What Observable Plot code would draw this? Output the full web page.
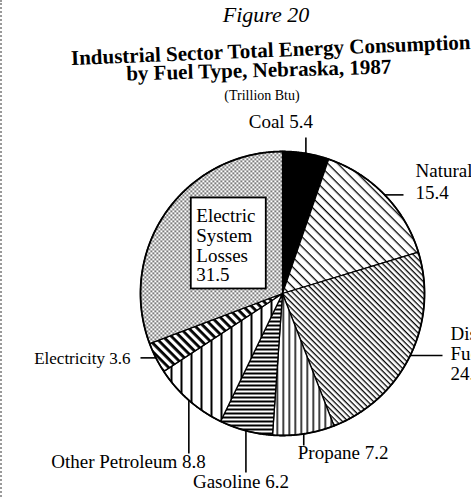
<!DOCTYPE html>
<html><head><meta charset="utf-8">
<script src="https://cdn.jsdelivr.net/npm/d3@7"></script>
<script src="https://cdn.jsdelivr.net/npm/@observablehq/plot@0.6"></script>
<style>
html,body{margin:0;padding:0;background:#fff;width:471px;height:497px;overflow:hidden;}
body{position:relative;font-family:"Liberation Serif","Times New Roman",serif;color:#000;}
#edge{position:absolute;left:0;top:0;width:0;height:497px;border-left:2px dotted #9a9a9a;}
#head{position:relative;height:112px;}
.t{position:absolute;white-space:nowrap;line-height:1;transform-origin:50% 80%;}
#fig{font-style:italic;font-size:22px;left:266px;top:4px;transform:translateX(-50%);}
#t1{font-weight:bold;font-size:21px;left:271px;top:40px;transform:translateX(-50%) rotate(-2.3deg);}
#t2{font-weight:bold;font-size:21px;left:259px;top:60px;transform:translateX(-50%) rotate(-1.5deg);}
#t3{font-size:14px;left:262px;top:89px;transform:translateX(-50%);}
#chart svg{display:block;overflow:hidden;}
</style></head><body>
<div id="edge"></div>
<div id="head">
  <div class="t" id="fig">Figure 20</div>
  <div class="t" id="t1">Industrial Sector Total Energy Consumption</div>
  <div class="t" id="t2">by Fuel Type, Nebraska, 1987</div>
  <div class="t" id="t3">(Trillion Btu)</div>
</div>
<div id="chart"></div>
<script>
// ---- data ----
const fuels = ["Coal", "Natural Gas", "Distillate Fuel", "Propane", "Gasoline", "Other Petroleum", "Electricity", "Electric System Losses"];
const values = [5.4, 15.4, 24.4, 7.2, 6.2, 8.8, 3.6, 31.5];
const labelNames = ["Coal", "Natural Gas\n", "Distillate\nFuel\n", "Propane", "Gasoline", "Other Petroleum", "Electricity", "Electric\nSystem\nLosses\n"];

// ---- layout (not data) ----
const W = 471, H = 385;
const CX = 282, CY = 181, R = 142;
// leader: dir, end coordinate (data units; X right, Y up from pie centre), text offsets
const layout = [
  {dir: "up",    to: 156,  dx: -25, dy: -10, anchor: "middle", lh: 1,    fs: 19},
  {dir: "right", to: 121,  dx: 12,  dy: 4,   anchor: "start",  lh: 1.17, fs: 19},
  {dir: "right", to: 160,  dx: 8,   dy: 24,  anchor: "start",  lh: 1.05, fs: 19},
  {dir: "down",  to: -152, dx: -6,  dy: 13,  anchor: "start",  lh: 1,    fs: 19},
  {dir: "down",  to: -179, dx: -5,  dy: 15,  anchor: "middle", lh: 1,    fs: 19},
  {dir: "down",  to: -160, dx: 17,  dy: 14,  anchor: "end",    lh: 1,    fs: 19},
  {dir: "left",  to: -142, dx: -10, dy: 6,   anchor: "end",    lh: 1,    fs: 17},
  null
];
const boxW = 75, boxH = 91;

const rows = fuels.map((f, i) => ({fuel: f, value: values[i], i}));
const arcs = d3.pie().sort(null).value(d => d.value)(rows);
const polar = (a, r) => ({x: r * Math.sin(a), y: r * Math.cos(a)});

function wedge(a) {
  const pts = [{x: 0, y: 0}];
  const n = Math.max(2, Math.ceil((a.endAngle - a.startAngle) / (Math.PI / 360)));
  for (let k = 0; k <= n; ++k) pts.push(polar(a.startAngle + (a.endAngle - a.startAngle) * k / n, R));
  pts.push({x: 0, y: 0});
  return pts;
}

const marks = [];
arcs.forEach((a, i) => {
  marks.push(Plot.line(wedge(a), {x: "x", y: "y", fill: `url(#pat${i})`, stroke: "#000", strokeWidth: 1.3, strokeLinejoin: "round"}));
});
// outer rim
const rim = d3.range(0, 721).map(k => polar(k * Math.PI / 360, R));
marks.push(Plot.line(rim, {x: "x", y: "y", stroke: "#000", strokeWidth: 1.8}));

arcs.forEach((a, i) => {
  const L = layout[i];
  const mid = (a.startAngle + a.endAngle) / 2;
  if (!L) {
    // boxed label inside the slice
    const c = polar(mid, 0.52 * R);
    const bx = c.x + 7, by = c.y + 8;
    const box = {x1: bx - boxW / 2, x2: bx + boxW / 2, y1: by - boxH / 2, y2: by + boxH / 2};
    marks.push(Plot.rect([box], {x1: "x1", x2: "x2", y1: "y1", y2: "y2", fill: "#fff", stroke: "#000", strokeWidth: 1.8}));
    marks.push(Plot.text([{x: box.x1 + 5, y: box.y2 - 10.5, t: labelNames[i] + values[i]}], {
      x: "x", y: "y", text: "t", textAnchor: "start", lineAnchor: "top", lineHeight: 1.03,
      fontSize: 19, fontFamily: "Liberation Serif", fill: "#000"
    }));
    return;
  }
  const p = polar(mid, R);
  const e = L.dir === "up" || L.dir === "down" ? {x: p.x, y: L.to} : {x: L.to, y: p.y};
  marks.push(Plot.link([{x1: p.x, y1: p.y, x2: e.x, y2: e.y}], {x1: "x1", y1: "y1", x2: "x2", y2: "y2", stroke: "#000", strokeWidth: 1.6}));
  marks.push(Plot.text([{x: e.x, y: e.y, t: labelNames[i] + (labelNames[i].endsWith("\n") ? "" : " ") + values[i]}], {
    x: "x", y: "y", text: "t", dx: L.dx, dy: L.dy, textAnchor: L.anchor, lineAnchor: "bottom",
    lineHeight: L.lh, fontSize: L.fs, fontFamily: "Liberation Serif", fill: "#000"
  }));
});

const svg = Plot.plot({
  width: W, height: H, margin: 0,
  x: {domain: [-CX, W - CX], axis: null},
  y: {domain: [-(H - CY), CY], axis: null},
  style: {background: "#fff", fontFamily: "Liberation Serif"},
  marks
});

// fill patterns
const defs = d3.select(svg).insert("defs", ":first-child");
function lines(id, size, thick, rotate) {
  const p = defs.append("pattern").attr("id", id).attr("patternUnits", "userSpaceOnUse")
    .attr("width", size).attr("height", size);
  if (rotate != null) p.attr("patternTransform", `rotate(${rotate})`);
  p.append("rect").attr("width", size).attr("height", size).attr("fill", "#fff");
  p.append("rect").attr("width", size).attr("height", thick).attr("fill", "#000");
}
function vlines(id, size, thick) {
  const p = defs.append("pattern").attr("id", id).attr("patternUnits", "userSpaceOnUse")
    .attr("width", size).attr("height", size);
  p.append("rect").attr("width", size).attr("height", size).attr("fill", "#fff");
  p.append("rect").attr("width", thick).attr("height", size).attr("fill", "#000");
}
{
  const p = defs.append("pattern").attr("id", "pat0").attr("patternUnits", "userSpaceOnUse").attr("width", 4).attr("height", 4);
  p.append("rect").attr("width", 4).attr("height", 4).attr("fill", "#000");
}
lines("pat1", 7, 1.3, 45);
lines("pat2", 4, 1.3, 45);
vlines("pat3", 6, 1.5);
lines("pat4", 4, 2, null);
vlines("pat5", 10, 2);
lines("pat6", 6, 2.8, 45);
{
  const p = defs.append("pattern").attr("id", "pat7").attr("patternUnits", "userSpaceOnUse").attr("width", 4).attr("height", 4);
  p.append("rect").attr("width", 4).attr("height", 4).attr("fill", "#fff");
  p.append("rect").attr("width", 1.6).attr("height", 1.6).attr("fill", "#333");
  p.append("rect").attr("x", 2).attr("y", 2).attr("width", 1.6).attr("height", 1.6).attr("fill", "#333");
}
document.getElementById("chart").appendChild(svg);
</script>
</body></html>
